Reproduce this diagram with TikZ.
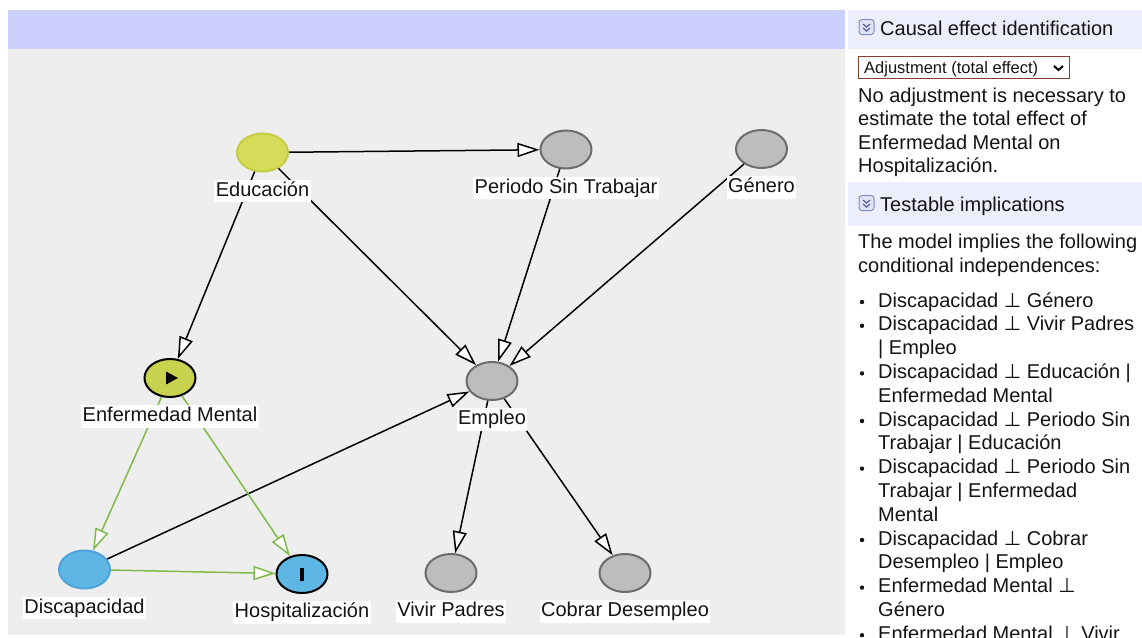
\documentclass[tikz,border=0pt]{standalone}
\usepackage{fontspec}
\setmainfont{Liberation Sans}
\newfontfamily\symfont{DejaVu Sans}
\usetikzlibrary{arrows.meta,shapes.geometric}

\definecolor{barblue}{RGB}{203,208,252}
\definecolor{canvasgray}{RGB}{238,238,238}
\definecolor{headbg}{RGB}{236,238,252}
\definecolor{exposurefill}{RGB}{200,210,78}
\definecolor{ancfill}{RGB}{212,220,90}
\definecolor{ancrim}{RGB}{196,205,66}
\definecolor{outfill}{RGB}{94,182,228}
\definecolor{bluerim}{RGB}{76,164,218}
\definecolor{nodegray}{RGB}{189,189,189}
\definecolor{grayrim}{RGB}{108,108,108}
\definecolor{causalgreen}{RGB}{128,186,72}
\definecolor{selectrim}{RGB}{140,62,46}
\definecolor{iconrim}{RGB}{128,140,184}
\definecolor{iconfill}{RGB}{224,228,246}
\definecolor{iconink}{RGB}{80,92,150}
\definecolor{inktext}{RGB}{20,20,20}

\newcommand{\indepsym}{{\symfont ⊥}}

\tikzset{
  var/.style={ellipse, minimum width=51pt, minimum height=38pt, inner sep=0pt, line width=2pt},
  graynode/.style={var, fill=nodegray, draw=grayrim},
  ancexp/.style={var, fill=ancfill, draw=ancrim},
  exposure/.style={var, fill=exposurefill, draw=black},
  ancout/.style={var, fill=outfill, draw=bluerim},
  outcome/.style={var, fill=outfill, draw=black},
  varlabel/.style={fill=white, inner xsep=1.5pt, inner ysep=1pt, text height=15.5pt,
    text depth=5pt, font=\fontsize{20}{24}\selectfont, text=inktext},
  otheredge/.style={draw=black, line width=1.5pt,
    -{Triangle[length=22pt,width=14pt,fill=white]}},
  pathedge/.style={draw=causalgreen, line width=1.5pt,
    -{Triangle[length=22pt,width=14pt,fill=white]}},
  paneltext/.style={anchor=base west, inner sep=0pt, font=\fontsize{20}{24}\selectfont, text=inktext},
  selecttext/.style={anchor=base west, inner sep=0pt, font=\fontsize{16.5}{19}\selectfont, text=inktext},
  iconbox/.style={draw=iconrim, fill=iconfill, line width=1pt, rounded corners=3pt,
    minimum width=15pt, minimum height=15pt, inner sep=0pt},
  chev/.style={draw=iconink, line width=1.2pt},
}

\begin{document}
\begin{tikzpicture}[x=1pt,y=-1pt]
\useasboundingbox (0,0) rectangle (1142,637);
\clip (0,0) rectangle (1142,637);
\fill[white] (0,0) rectangle (1142,637);

% canvas and its top bar
\fill[canvasgray] (8,49) rectangle (845,635);
\fill[barblue] (8,10) rectangle (845,49);

% side panel headers
\fill[headbg] (848,10) rectangle (1142,49);
\fill[headbg] (848,182) rectangle (1142,226);

% variables
\node[ancexp]   (edu)  at (262.5,152.5) {};
\node[graynode] (pst)  at (566,149.5) {};
\node[graynode] (gen)  at (761.5,149) {};
\node[graynode] (emp)  at (492,381) {};
\node[exposure] (em)   at (170,378) {};
\node[ancout]   (dis)  at (84.5,569.5) {};
\node[outcome]  (hos)  at (302,574) {};
\node[graynode] (viv)  at (451,573) {};
\node[graynode] (cob)  at (625,573) {};

% exposure and outcome marks
\fill[black] ([shift={(-4pt,6.5pt)}]em.center) -- ++(12pt,-6.5pt) -- ++(-12pt,-6.5pt) -- cycle;
\fill[black] ([shift={(-2.3pt,-6.5pt)}]hos.center) rectangle ([shift={(2.3pt,6.5pt)}]hos.center);

% edges
\draw[otheredge] (edu) -- (pst);
\draw[otheredge] (edu) -- (em);
\draw[otheredge] (edu) -- (emp);
\draw[otheredge] (pst) -- (emp);
\draw[otheredge] (gen) -- (emp);
\draw[otheredge] (dis) -- (emp);
\draw[otheredge] (emp) -- (viv);
\draw[otheredge] (emp) -- (cob);
\draw[pathedge] (em) -- (dis);
\draw[pathedge] (em) -- (hos);
\draw[pathedge] (dis) -- (hos);

% variable names
\node[varlabel] (edu-l) at ([yshift=-38.5pt]edu.center) {Educación};
\node[varlabel] (pst-l) at ([yshift=-38.5pt]pst.center) {Periodo Sin Trabajar};
\node[varlabel] (gen-l) at ([yshift=-38.5pt]gen.center) {Género};
\node[varlabel] (emp-l) at ([yshift=-38.5pt]emp.center) {Empleo};
\node[varlabel] (em-l)  at ([yshift=-38.5pt]em.center) {Enfermedad Mental};
\node[varlabel] (dis-l) at ([yshift=-38.5pt]dis.center) {Discapacidad};
\node[varlabel] (hos-l) at ([yshift=-38.5pt]hos.center) {Hospitalización};
\node[varlabel] (viv-l) at ([yshift=-38.5pt]viv.center) {Vivir Padres};
\node[varlabel] (cob-l) at ([yshift=-38.5pt]cob.center) {Cobrar Desempleo};

% collapse icons
\foreach \nm/\cy in {iconA/27, iconB/203} {
  \node[iconbox] (\nm) at (866.5,\cy) {};
  \draw[chev] ([shift={(-3.5pt,3pt)}]\nm.center) -- ++(3.5pt,-3pt) -- ++(3.5pt,3pt);
  \draw[chev] ([shift={(-3.5pt,-1pt)}]\nm.center) -- ++(3.5pt,-3pt) -- ++(3.5pt,3pt);
}

% causal effect identification
\node[paneltext] (head1) at (880,35) {Causal effect identification};
\node[draw=selectrim, line width=1pt, fill=white, minimum width=211pt, minimum height=22pt,
  inner sep=0pt, anchor=north west] (sel) at (858,56) {};
\node[selecttext] (seltext) at (864,73) {Adjustment (total effect)};
\draw[black, line width=2pt] ([shift={(-16pt,1.5pt)}]sel.east) -- ++(4.5pt,-4pt) -- ++(4.5pt,4pt);
\node[paneltext] (res1) at (858,102) {No adjustment is necessary to};
\node[paneltext] (res2) at (858,125.5) {estimate the total effect of};
\node[paneltext] (res3) at (858,149) {Enfermedad Mental on};
\node[paneltext] (res4) at (858,172.5) {Hospitalización.};

% testable implications
\node[paneltext] (head2) at (880,211) {Testable implications};
\node[paneltext] (intro1) at (858,248) {The model implies the following};
\node[paneltext] (intro2) at (858,272) {conditional independences:};

\foreach \txt [count=\i] in {
  {Discapacidad \indepsym{} Género},
  {Discapacidad \indepsym{} Vivir Padres},
  {| Empleo},
  {Discapacidad \indepsym{} Educación |},
  {Enfermedad Mental},
  {Discapacidad \indepsym{} Periodo Sin},
  {Trabajar | Educación},
  {Discapacidad \indepsym{} Periodo Sin},
  {Trabajar | Enfermedad},
  {Mental},
  {Discapacidad \indepsym{} Cobrar},
  {Desempleo | Empleo},
  {Enfermedad Mental \indepsym},
  {Género},
  {Enfermedad Mental \indepsym{} Vivir}} {
  \node[paneltext] (item\i) at (878,{307+23.8*(\i-1)}) {\txt};
}
\foreach \i in {1,2,4,6,8,11,13,15} {
  \fill[inktext] (862,{302+23.8*(\i-1)}) circle[radius=2.2pt];
}
\end{tikzpicture}
\end{document}
